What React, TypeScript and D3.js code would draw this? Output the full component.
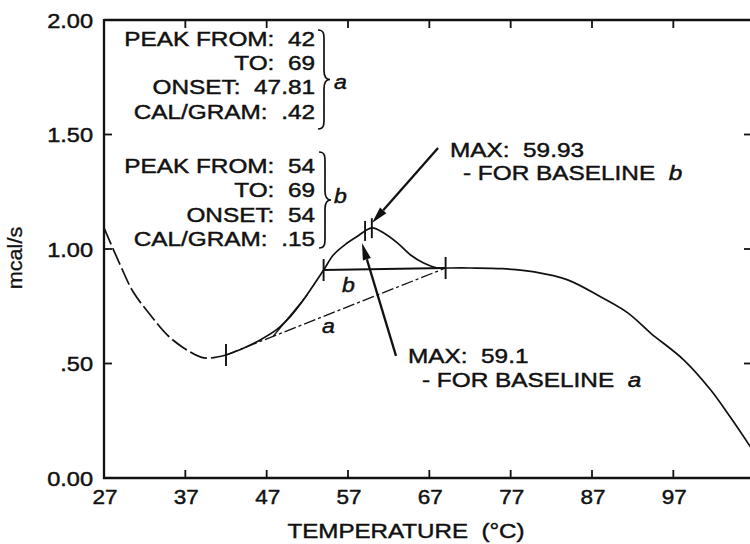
import React from 'react';
import * as d3 from 'd3';

// ---- data (temperature °C, heat flow mcal/s) ----
const tempT = [27, 29, 30.6, 32.7, 34.8, 36.8, 38.9, 40.1, 42, 44.2, 46.2, 48.3, 49.9, 51.2, 54, 55.2, 56.9, 58.2, 59.1, 60, 61.4, 63.1, 64.7, 66.3, 68, 69, 72, 76, 79.9, 84, 88.1, 91.4, 94.2, 98.3, 101.6, 104, 106.5];
const heatV = [1.092, 0.93, 0.812, 0.712, 0.624, 0.568, 0.528, 0.524, 0.537, 0.568, 0.603, 0.65, 0.705, 0.762, 0.908, 0.974, 1.026, 1.057, 1.079, 1.092, 1.07, 1.026, 0.974, 0.939, 0.917, 0.917, 0.917, 0.914, 0.9, 0.865, 0.79, 0.721, 0.633, 0.515, 0.384, 0.266, 0.135];
const dashedEndT = 42;

const xTicks = [27, 37, 47, 57, 67, 77, 87, 97];
const xTickLabels = ['27', '37', '47', '57', '67', '77', '87', '97'];
const yTicks = [0, 0.5, 1, 1.5, 2];
const yTickLabels = ['0.00', '.50', '1.00', '1.50', '2.00'];

const baselineA: [number, number][] = [[42, 0.537], [69, 0.917]];
const baselineB: [number, number][] = [[54, 0.908], [69, 0.917]];
const onsetLine: [number, number][] = [[47.81, 0.619], [52, 0.8]];
const markerT = [42, 54, 69];
const peakT = [59.1, 59.93];

const blockA = ['PEAK FROM:  42', 'TO:  69', 'ONSET:  47.81', 'CAL/GRAM:  .42'];
const blockB = ['PEAK FROM:  54', 'TO:  69', 'ONSET:  54', 'CAL/GRAM:  .15'];
const arrowB: [number, number][] = [[68.07, 1.441], [59.95, 1.113]];
const arrowA: [number, number][] = [[62.9, 0.533], [58.72, 1.026]];

const FONT = '"Liberation Sans", Arial, Helvetica, sans-serif';
const SX = 1.16;

function Txt({ x, y, anchor = 'start', italic = false, size = 21, sx = SX, children }: any) {
  return (
    <text
      transform={`translate(${x},${y}) scale(${sx},1)`}
      textAnchor={anchor}
      fontFamily={FONT}
      fontSize={size}
      fontStyle={italic ? 'italic' : 'normal'}
      fill="#111"
      stroke="#111"
      strokeWidth={0.45}
      style={{ whiteSpace: 'pre' }}
    >
      {children}
    </text>
  );
}

function brace(x: number, y1: number, y2: number, w: number) {
  const mid = (y1 + y2) / 2;
  const h = w * 0.5;
  return `M${x},${y1} C${x + w * 0.55},${y1} ${x + h},${y1 + 5} ${x + h},${y1 + 13} L${x + h},${mid - 9} C${x + h},${mid - 3} ${x + w * 0.7},${mid} ${x + w},${mid} C${x + w * 0.7},${mid} ${x + h},${mid + 3} ${x + h},${mid + 9} L${x + h},${y2 - 13} C${x + h},${y2 - 5} ${x + w * 0.55},${y2} ${x},${y2}`;
}

export default function App() {
  const x = d3.scaleLinear().domain([27, 106.5]).range([104, 750.6]);
  const y = d3.scaleLinear().domain([0, 2]).range([478, 20]);
  const pts = tempT.map((t, i) => [t, heatV[i]] as [number, number]);
  const line = d3.line<[number, number]>().x(d => x(d[0])).y(d => y(d[1])).curve(d3.curveCatmullRom.alpha(0.5));
  const straight = d3.line<[number, number]>().x(d => x(d[0])).y(d => y(d[1]));
  const dashedPts = pts.filter(p => p[0] <= dashedEndT);
  const solidPts = pts.filter(p => p[0] >= dashedEndT);
  const interp = (t: number) => {
    const i = d3.bisectLeft(tempT, t);
    if (tempT[i] === t) return heatV[i];
    const t0 = tempT[i - 1], t1 = tempT[i];
    return heatV[i - 1] + (heatV[i] - heatV[i - 1]) * (t - t0) / (t1 - t0);
  };
  const arrow = (a: [number, number][]) => {
    const x0 = x(a[0][0]), y0 = y(a[0][1]), x1 = x(a[1][0]), y1 = y(a[1][1]);
    const dx = x1 - x0, dy = y1 - y0, L = Math.hypot(dx, dy);
    const ux = dx / L, uy = dy / L, len = 17, hw = 4.2;
    const bx = x1 - ux * len, by = y1 - uy * len;
    return (
      <g>
        <line x1={x0} y1={y0} x2={bx} y2={by} stroke="#111" strokeWidth={2.3} />
        <polygon points={`${x1},${y1} ${bx - uy * hw},${by + ux * hw} ${bx + uy * hw},${by - ux * hw}`} fill="#111" />
      </g>
    );
  };
  const left = x(27), right = 752, top = y(2), bottom = y(0);
  return (
    <svg width={750} height={544} style={{ position: 'absolute', left: 0, top: 0, background: '#fff' }}>
      <rect width={750} height={544} fill="#fff" />
      {/* frame */}
      <path d={`M${left},${top} L${right},${top} M${left},${top - 1} L${left},${bottom} L${right},${bottom}`} fill="none" stroke="#111" strokeWidth={2.3} />
      {xTicks.slice(1).map(t => (
        <g key={t}>
          <line x1={x(t)} x2={x(t)} y1={bottom} y2={bottom - 8} stroke="#111" strokeWidth={1.8} />
          <line x1={x(t)} x2={x(t)} y1={top} y2={top + 8} stroke="#111" strokeWidth={1.8} />
        </g>
      ))}
      {yTicks.slice(1, 4).map(v => (
        <g key={v}>
          <line x1={left} x2={left + 8} y1={y(v)} y2={y(v)} stroke="#111" strokeWidth={1.8} />
          <line x1={right - 8} x2={right} y1={y(v)} y2={y(v)} stroke="#111" strokeWidth={1.8} />
        </g>
      ))}
      {xTicks.map((t, i) => (
        <Txt key={t} x={x(t) + 1} y={504} anchor="middle" size={20.5} sx={1.1}>{xTickLabels[i]}</Txt>
      ))}
      {yTicks.map((v, i) => (
        <Txt key={v} x={93} y={y(v) + 7.5} anchor="end" size={20.5} sx={1.15}>{yTickLabels[i]}</Txt>
      ))}
      <Txt x={406} y={538} anchor="middle" size={21} sx={1.15}>{'TEMPERATURE  (°C)'}</Txt>
      <text transform={`translate(22,258) rotate(-90) scale(1.08,1)`} textAnchor="middle" fontFamily={FONT} fontSize={20} fill="#111" stroke="#111" strokeWidth={0.3}>mcal/s</text>

      {/* curve */}
      <path d={line(dashedPts) || ''} fill="none" stroke="#111" strokeWidth={1.7} strokeDasharray="18,4" />
      <path d={line(solidPts) || ''} fill="none" stroke="#111" strokeWidth={1.7} />
      <path d={straight(baselineB) || ''} fill="none" stroke="#111" strokeWidth={1.9} />
      <path d={straight(baselineA) || ''} fill="none" stroke="#111" strokeWidth={1.3} strokeDasharray="12,3,3,3" />
      <path d={straight(onsetLine) || ''} fill="none" stroke="#111" strokeWidth={1.3} />
      {markerT.map(t => (
        <line key={t} x1={x(t)} x2={x(t)} y1={y(interp(t)) - 11} y2={y(interp(t)) + 11} stroke="#111" strokeWidth={1.9} />
      ))}
      {peakT.map(t => (
        <line key={t} x1={x(t)} x2={x(t)} y1={y(interp(t)) - 10} y2={y(interp(t)) + 10} stroke="#111" strokeWidth={1.9} />
      ))}
      <Txt x={342} y={292} italic size={21} sx={1.1}>b</Txt>
      <Txt x={322} y={333} italic size={21} sx={1.1}>a</Txt>

      {/* info blocks */}
      {blockA.map((s, i) => (
        <Txt key={'a' + i} x={315} y={46 + i * 24.2} anchor="end">{s}</Txt>
      ))}
      {blockB.map((s, i) => (
        <Txt key={'b' + i} x={315} y={173 + i * 24.4} anchor="end">{s}</Txt>
      ))}
      <path d={brace(318, 30, 129, 12)} fill="none" stroke="#111" strokeWidth={1.7} />
      <path d={brace(319, 152, 248, 12)} fill="none" stroke="#111" strokeWidth={1.7} />
      <Txt x={334} y={89} italic size={21} sx={1.1}>a</Txt>
      <Txt x={334} y={203} italic size={21} sx={1.1}>b</Txt>

      {/* annotations */}
      {arrow(arrowB)}
      {arrow(arrowA)}
      <Txt x={450} y={157}>{'MAX:  59.93'}</Txt>
      <Txt x={463} y={180}>{'- FOR BASELINE  '}<tspan fontStyle="italic">b</tspan></Txt>
      <Txt x={408} y={363}>{'MAX:  59.1'}</Txt>
      <Txt x={422} y={387}>{'- FOR BASELINE  '}<tspan fontStyle="italic">a</tspan></Txt>
    </svg>
  );
}
